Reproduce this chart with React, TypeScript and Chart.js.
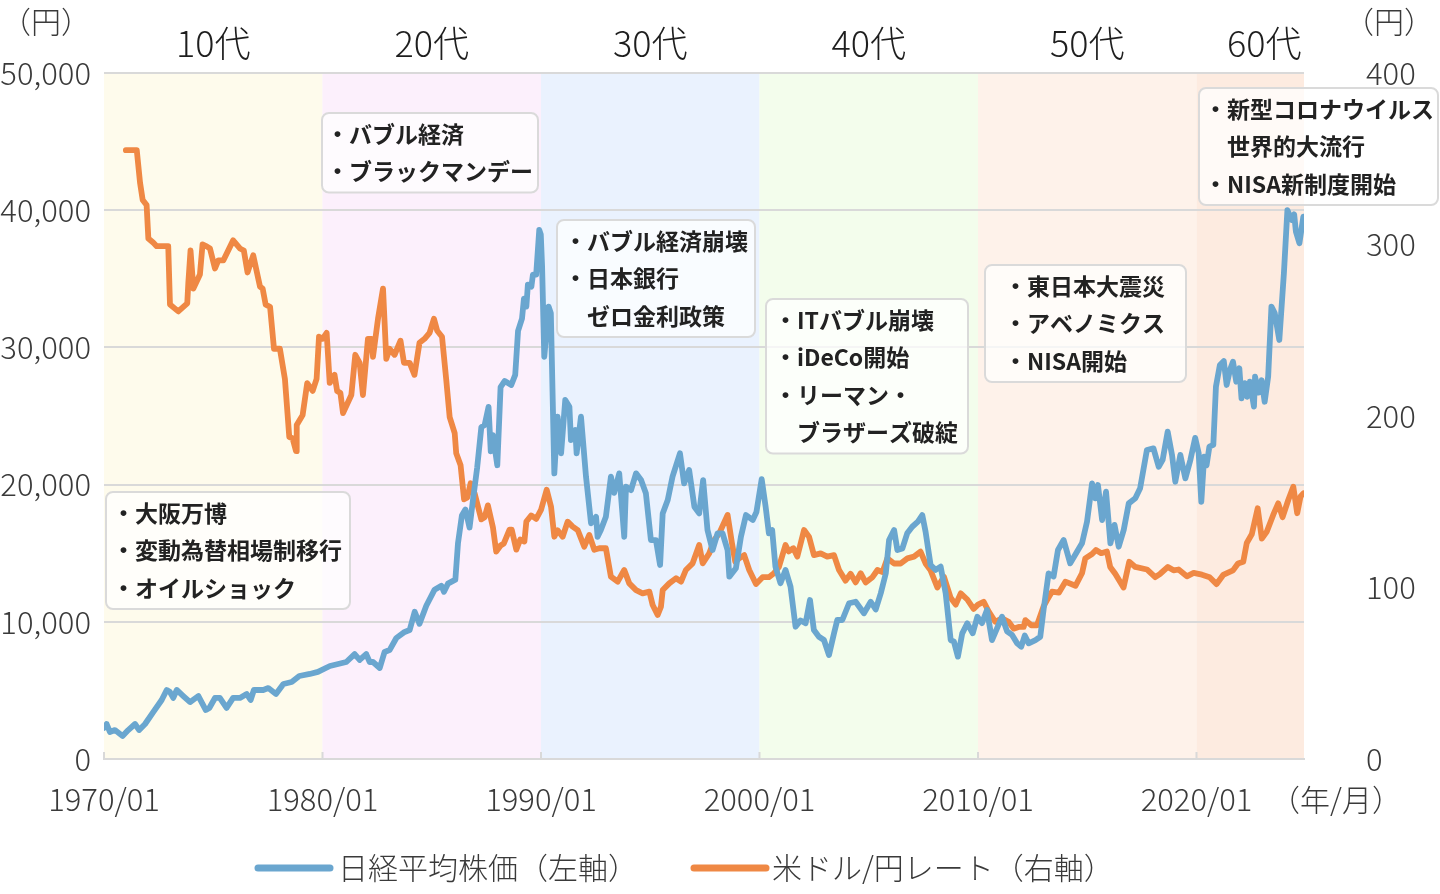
import React, { useEffect, useRef } from "react";
import { Chart, registerables } from "chart.js";

Chart.register(...registerables);

// ---- Data (decimal years) ----
const nikkeiYears = [
  1970.00, 1970.12, 1970.27, 1970.50, 1970.85, 1971.11, 1971.42, 1971.61, 1971.88, 1972.26,
  1972.64, 1972.87, 1973.02, 1973.17, 1973.33, 1973.63, 1973.94, 1974.32, 1974.66, 1974.82,
  1975.08, 1975.30, 1975.61, 1975.91, 1976.22, 1976.53, 1976.71, 1976.86, 1977.29, 1977.52,
  1977.87, 1978.21, 1978.59, 1978.94, 1979.42, 1979.79, 1980.34, 1981.09, 1981.47, 1981.70,
  1982.00, 1982.16, 1982.31, 1982.62, 1982.84, 1983.07, 1983.38, 1983.76, 1983.99, 1984.22,
  1984.44, 1984.75, 1985.13, 1985.44, 1985.56, 1985.74, 1986.08, 1986.20, 1986.38, 1986.54,
  1986.73, 1986.89, 1987.08, 1987.27, 1987.42, 1987.60, 1987.70, 1987.80, 1988.00, 1988.15,
  1988.34, 1988.64, 1988.82, 1988.95, 1989.13, 1989.22, 1989.33, 1989.40, 1989.56, 1989.63,
  1989.78, 1989.92, 1989.99, 1990.05, 1990.15, 1990.35, 1990.45, 1990.61, 1990.76, 1990.92,
  1991.11, 1991.30, 1991.37, 1991.57, 1991.63, 1991.83, 1992.06, 1992.29, 1992.52, 1992.59,
  1992.74, 1992.97, 1993.20, 1993.35, 1993.58, 1993.81, 1993.89, 1994.12, 1994.35, 1994.58,
  1994.80, 1995.03, 1995.26, 1995.45, 1995.57, 1995.80, 1996.02, 1996.36, 1996.55, 1996.78,
  1997.02, 1997.24, 1997.42, 1997.62, 1997.85, 1998.08, 1998.31, 1998.54, 1998.62, 1998.92,
  1999.15, 1999.38, 1999.69, 1999.86, 2000.10, 2000.28, 2000.43, 2000.58, 2000.73, 2000.96,
  2001.19, 2001.42, 2001.65, 2001.88, 2002.11, 2002.31, 2002.49, 2002.72, 2002.95, 2003.18,
  2003.41, 2003.56, 2003.79, 2004.10, 2004.40, 2004.78, 2005.09, 2005.32, 2005.55, 2005.78,
  2005.93, 2006.16, 2006.31, 2006.54, 2006.76, 2006.99, 2007.25, 2007.45, 2007.60, 2007.83,
  2008.06, 2008.29, 2008.52, 2008.75, 2008.90, 2009.08, 2009.28, 2009.51, 2009.76, 2009.97,
  2010.18, 2010.41, 2010.64, 2010.87, 2011.10, 2011.33, 2011.56, 2011.79, 2011.98, 2012.14,
  2012.32, 2012.63, 2012.85, 2013.00, 2013.23, 2013.46, 2013.66, 2013.92, 2014.22, 2014.53,
  2014.76, 2014.99, 2015.22, 2015.37, 2015.49, 2015.68, 2015.86, 2016.06, 2016.25, 2016.44,
  2016.67, 2016.90, 2017.20, 2017.42, 2017.73, 2018.03, 2018.27, 2018.45, 2018.68, 2018.88,
  2019.03, 2019.26, 2019.49, 2019.72, 2019.94, 2020.10, 2020.22, 2020.35, 2020.46, 2020.59,
  2020.77, 2020.89, 2021.07, 2021.25, 2021.38, 2021.53, 2021.67, 2021.82, 2021.96, 2022.06,
  2022.21, 2022.32, 2022.44, 2022.63, 2022.68, 2022.83, 2022.98, 2023.12, 2023.28, 2023.43,
  2023.58, 2023.79, 2024.00, 2024.16, 2024.36, 2024.47, 2024.55, 2024.71, 2024.89,
];
const nikkeiValues = [
  2260, 2550, 1970, 2110, 1680, 2110, 2550, 2110, 2550, 3430,
  4300, 5030, 4880, 4450, 5030, 4590, 4150, 4590, 3570, 3720,
  4450, 4450, 3720, 4450, 4450, 4740, 4300, 5030, 5030, 5170,
  4740, 5470, 5610, 6050, 6200, 6350, 6780, 7070, 7650, 7220,
  7650, 7070, 7070, 6630, 7800, 7940, 8820, 9260, 9400, 10730,
  9850, 11170, 12340, 12630, 12190, 12780, 13070, 15710, 17750, 18190,
  16870, 18920, 21260, 24190, 24340, 25660, 22430, 23610, 21410, 27110,
  27550, 27260, 28000, 31210, 32090, 33560, 32970, 34580, 34430, 35310,
  35310, 38560, 38240, 35880, 29320, 32970, 32500, 20820, 24950, 22280,
  26170, 25680, 23250, 23980, 22280, 24950, 20580, 17180, 17660, 16200,
  16700, 17660, 20580, 19400, 20820, 16200, 19850, 19600, 20820, 20330,
  19370, 15960, 15960, 14140, 17900, 18880, 20580, 22280, 20090, 21060,
  18390, 17900, 20330, 16690, 15230, 16450, 16450, 15230, 13290, 13900,
  16200, 17780, 17420, 18000, 20400, 18390, 16450, 16690, 14020, 12810,
  13780, 12560, 9640, 10100, 9890, 11590, 9400, 8910, 8670, 7580,
  9160, 10130, 10130, 11350, 11460, 10620, 11460, 10900, 12080, 13530,
  15960, 16690, 15230, 15350, 16450, 16930, 17300, 17780, 16570, 14140,
  13780, 14020, 12080, 8670, 8550, 7460, 9160, 9890, 9160, 10370,
  9900, 10860, 8670, 9520, 10370, 9300, 9040, 8430, 8190, 9000,
  8430, 8670, 8910, 10860, 13530, 13300, 15230, 15960, 14260, 15100,
  15720, 17300, 20090, 19000, 19970, 17420, 19480, 15720, 17060, 15470,
  16700, 18630, 19000, 19730, 22520, 22640, 21300, 21800, 23860, 22160,
  20210, 22160, 20450, 21800, 23400, 22300, 18750, 22030, 21400, 22760,
  22890, 27140, 28720, 29000, 27260, 28360, 28960, 27500, 28480, 26290,
  27400, 26400, 27500, 25680, 27870, 26700, 27600, 26040, 27870, 32970,
  32500, 30540, 35400, 40010, 39290, 39700, 38430, 37590, 39530,
];

const fxYears = [
  1971.00, 1971.50, 1971.65, 1971.77, 1971.95, 1972.03, 1972.26, 1972.41, 1972.94, 1973.02,
  1973.40, 1973.81, 1973.86, 1973.96, 1974.09, 1974.39, 1974.51, 1974.70, 1974.85, 1975.08,
  1975.23, 1975.46, 1975.91, 1976.22, 1976.40, 1976.57, 1976.83, 1977.14, 1977.26, 1977.40,
  1977.60, 1977.78, 1978.05, 1978.28, 1978.48, 1978.63, 1978.79, 1978.82, 1979.09, 1979.30,
  1979.55, 1979.73, 1979.84, 1980.00, 1980.19, 1980.33, 1980.55, 1980.67, 1980.82, 1980.94,
  1981.32, 1981.50, 1981.70, 1981.85, 1982.08, 1982.24, 1982.31, 1982.54, 1982.77, 1982.92,
  1983.07, 1983.30, 1983.57, 1983.73, 1983.99, 1984.21, 1984.44, 1984.67, 1984.90, 1985.10,
  1985.25, 1985.47, 1985.66, 1985.82, 1986.05, 1986.12, 1986.32, 1986.48, 1986.63, 1986.78,
  1986.96, 1987.27, 1987.42, 1987.57, 1987.80, 1987.95, 1988.15, 1988.30, 1988.56, 1988.66,
  1988.87, 1989.05, 1989.24, 1989.33, 1989.55, 1989.78, 1990.00, 1990.26, 1990.46, 1990.61,
  1990.76, 1990.99, 1991.22, 1991.45, 1991.68, 1991.98, 1992.21, 1992.44, 1992.67, 1992.97,
  1993.20, 1993.51, 1993.81, 1994.04, 1994.35, 1994.65, 1994.96, 1995.11, 1995.34, 1995.49,
  1995.57, 1995.87, 1996.18, 1996.41, 1996.63, 1996.94, 1997.24, 1997.40, 1997.70, 1997.93,
  1998.16, 1998.54, 1998.74, 1998.89, 1999.07, 1999.30, 1999.53, 1999.84, 2000.14, 2000.43,
  2000.66, 2000.89, 2001.19, 2001.34, 2001.55, 2001.73, 2002.04, 2002.27, 2002.49, 2002.80,
  2003.10, 2003.41, 2003.64, 2003.94, 2004.17, 2004.40, 2004.63, 2004.86, 2005.17, 2005.40,
  2005.63, 2005.85, 2006.16, 2006.46, 2006.77, 2007.07, 2007.37, 2007.60, 2007.83, 2008.14,
  2008.44, 2008.75, 2008.98, 2009.21, 2009.51, 2009.80, 2010.00, 2010.26, 2010.49, 2010.79,
  2011.10, 2011.40, 2011.63, 2011.86, 2012.09, 2012.17, 2012.44, 2012.70, 2013.00, 2013.16,
  2013.39, 2013.70, 2014.00, 2014.46, 2014.76, 2014.91, 2015.22, 2015.40, 2015.64, 2015.90,
  2016.05, 2016.28, 2016.66, 2016.92, 2017.20, 2017.73, 2018.11, 2018.34, 2018.69, 2018.95,
  2019.18, 2019.56, 2019.87, 2020.25, 2020.60, 2020.92, 2021.22, 2021.67, 2021.90, 2022.14,
  2022.30, 2022.53, 2022.80, 2022.99, 2023.22, 2023.51, 2023.74, 2023.94, 2024.20, 2024.43,
  2024.61, 2024.76, 2024.90,
];
const fxValues = [
  355, 355, 336, 326, 323, 303.5, 301, 299, 299, 265,
  261, 265.7, 277.8, 296.5, 274.3, 282.5, 300, 298.9, 297.7, 286,
  290.7, 290.7, 302.4, 297.7, 296.5, 283.7, 293.7, 275.4, 274.3, 264.9,
  263.7, 239.2, 239.2, 221.6, 187.7, 187, 179.5, 194.7, 200.5, 219.2,
  214.6, 221.6, 246.2, 245, 248.5, 219.3, 224, 214.6, 213.4, 201.7,
  212.2, 235.7, 231, 212.2, 245, 245, 234.5, 256.7, 274.3, 233.3,
  239.2, 235.7, 243.9, 231, 231, 224, 242.7, 245, 248.5, 256.7,
  249.7, 246.2, 221.6, 199.4, 190, 178.3, 171.3, 151.4, 152.5, 160.8,
  154.9, 139.7, 140.9, 147.9, 135, 120.9, 124.5, 125.7, 133.8, 133.8,
  122.1, 128, 126.8, 138.5, 142, 140, 145.2, 157, 147.1, 129.6,
  133.4, 129.6, 138.4, 135.5, 133.5, 123.8, 130.6, 122, 122.9, 122.9,
  106.3, 103.4, 110.2, 102.4, 98.5, 96.6, 97.6, 89.8, 84, 88.8,
  98.5, 102.4, 105.4, 103.4, 110.2, 114.1, 124.8, 114.1, 119.9, 127.7,
  131.6, 142.3, 125.8, 115, 117, 118.9, 110.2, 102, 106, 106,
  108.3, 112, 124.8, 121, 122.9, 118, 133.5, 129.5, 118.9, 119.9,
  118, 118.9, 110.2, 104, 108, 103, 108.3, 103, 106, 110.2,
  109, 117, 114, 114, 117, 118, 120.9, 114, 110, 100,
  106.3, 94, 90, 96.6, 93, 87.5, 90, 91.7, 86, 80,
  82, 80, 76, 77, 77, 81, 78, 78, 89, 92.7,
  97.6, 97, 103.4, 101, 108.3, 117, 119.5, 121.9, 120, 121,
  112, 108, 100, 115, 112, 110.5, 106, 108, 112, 110,
  110.5, 106.5, 108.5, 107.5, 106, 102, 107.3, 110, 114, 115,
  126, 131, 146.2, 128.5, 132.6, 142.3, 149.1, 141, 151, 158.8,
  143.3, 153, 154.9,
];

const xTickYears = [1970, 1980, 1990, 2000, 2010, 2020];
const leftTicks = [0, 10000, 20000, 30000, 40000, 50000];
const rightTicks = [0, 100, 200, 300, 400];
const decadeStarts = [1970, 1980, 1990, 2000, 2010, 2020];
const decadeLabels = ["10代", "20代", "30代", "40代", "50代", "60代"];
const seriesNames = ["日経平均株価（左軸）", "米ドル/円レート（右軸）"];
const eventNotes = [
  ["・大阪万博", "・変動為替相場制移行", "・オイルショック"],
  ["・バブル経済", "・ブラックマンデー"],
  ["・バブル経済崩壊", "・日本銀行", "　ゼロ金利政策"],
  ["・ITバブル崩壊", "・iDeCo開始", "・リーマン・", "　ブラザーズ破綻"],
  ["・東日本大震災", "・アベノミクス", "・NISA開始"],
  ["・新型コロナウイルス", "　世界的大流行", "・NISA新制度開始"],
];

// ---- Styles / layout ----
const FONT = '"Noto Sans CJK JP", "Noto Sans", sans-serif';
const BLUE = "#6aa6cf";
const ORANGE = "#ef8844";
const GRID = "#d9d9d9";
const TEXT = "#3a3a3a";
const bandColors = ["#fefbec", "#fcf0fc", "#eaf2fe", "#f3fdec", "#fef2ea", "#fdebe0"];
const decadeLabelYears = [1975, 1985, 1995, 2005, 2015, 2023.1];
const noteBoxes = [
  { x: 106, y: 492, w: 244, pad: 6 },
  { x: 322, y: 113, w: 216, pad: 4 },
  { x: 557, y: 220, w: 198, pad: 7 },
  { x: 766, y: 299, w: 202, pad: 8 },
  { x: 985, y: 265, w: 201, pad: 19 },
  { x: 1199, y: 88, w: 239, pad: 5 },
];
const LINE_GAP = 37.5;
const CHART_TOP = 73;
const CHART_BOTTOM = 759;

const overlayPlugin = {
  id: "overlay",
  beforeDraw(chart: any) {
    const { ctx, chartArea: a, scales } = chart;
    const x = scales.x;
    ctx.save();
    decadeStarts.forEach((s, i) => {
      const x0 = x.getPixelForValue(s);
      const x1 = i < decadeStarts.length - 1 ? x.getPixelForValue(decadeStarts[i + 1]) : a.right;
      ctx.fillStyle = bandColors[i];
      ctx.fillRect(x0, a.top, x1 - x0, a.bottom - a.top);
    });
    ctx.restore();
  },
  afterDatasetsDraw(chart: any) {
    const { ctx } = chart;
    ctx.save();
    eventNotes.forEach((lines, i) => {
      const b = noteBoxes[i];
      const h = (lines.length - 1) * LINE_GAP + 42;
      ctx.beginPath();
      if (ctx.roundRect) ctx.roundRect(b.x, b.y, b.w, h, 7);
      else ctx.rect(b.x, b.y, b.w, h);
      ctx.fillStyle = "rgba(255,255,255,0.72)";
      ctx.fill();
      ctx.lineWidth = 2;
      ctx.strokeStyle = "#dadada";
      ctx.stroke();
      ctx.fillStyle = "#222";
      ctx.font = `bold 23px ${FONT}`;
      ctx.textAlign = "left";
      ctx.textBaseline = "middle";
      lines.forEach((t, j) => {
        ctx.fillText(t, b.x + b.pad, b.y + 21 + j * LINE_GAP);
      });
    });
    ctx.restore();
  },
  afterDraw(chart: any) {
    const { ctx, chartArea: a, scales } = chart;
    const x = scales.x;
    ctx.save();
    ctx.strokeStyle = GRID;
    ctx.lineWidth = 2;
    xTickYears.forEach((v) => {
      const px = x.getPixelForValue(v);
      ctx.beginPath();
      ctx.moveTo(px, a.bottom - 7);
      ctx.lineTo(px, a.bottom);
      ctx.stroke();
    });
    ctx.fillStyle = "#1e1e1e";
    ctx.font = `300 36px ${FONT}`;
    ctx.textAlign = "center";
    ctx.textBaseline = "middle";
    decadeLabels.forEach((t, i) => {
      ctx.fillText(t, x.getPixelForValue(decadeLabelYears[i]), 43);
    });
    ctx.fillStyle = TEXT;
    ctx.font = `300 30px ${FONT}`;
    ctx.fillText("（円）", 46, 22);
    ctx.fillText("（円）", 1389, 22);
    ctx.fillText("（年/月）", 1336, 800);
    const legendY = 868;
    const items = [
      { color: BLUE, x0: 258, x1: 330, tx: 338 },
      { color: ORANGE, x0: 694, x1: 766, tx: 772 },
    ];
    items.forEach((it, i) => {
      ctx.strokeStyle = it.color;
      ctx.lineWidth = 7;
      ctx.lineCap = "round";
      ctx.beginPath();
      ctx.moveTo(it.x0, legendY);
      ctx.lineTo(it.x1, legendY);
      ctx.stroke();
      ctx.fillStyle = TEXT;
      ctx.textAlign = "left";
      ctx.fillText(seriesNames[i], it.tx, legendY);
    });
    ctx.restore();
  },
};

export default function App() {
  const canvasRef = useRef<HTMLCanvasElement>(null);
  useEffect(() => {
    const canvas = canvasRef.current;
    if (!canvas) return;
    const toPoints = (xs: number[], ys: number[]) => xs.map((v, i) => ({ x: v, y: ys[i] }));
    const tickFont = { family: FONT, size: 31, weight: "300" };
    const vFit = (w: number) => (s: any) => {
      s.width = w;
      s.paddingTop = 0;
      s.paddingBottom = 0;
    };
    const chart = new Chart(canvas, {
      type: "line",
      data: {
        datasets: [
          {
            label: seriesNames[0],
            data: toPoints(nikkeiYears, nikkeiValues),
            yAxisID: "y",
            borderColor: BLUE,
            backgroundColor: BLUE,
            borderWidth: 5.8,
            pointRadius: 0,
            tension: 0,
            borderJoinStyle: "round",
            borderCapStyle: "round",
          },
          {
            label: seriesNames[1],
            data: toPoints(fxYears, fxValues),
            yAxisID: "y1",
            borderColor: ORANGE,
            backgroundColor: ORANGE,
            borderWidth: 5.8,
            pointRadius: 0,
            tension: 0,
            borderJoinStyle: "round",
            borderCapStyle: "round",
          },
        ],
      },
      options: {
        animation: false,
        responsive: false,
        devicePixelRatio: 1,
        layout: { padding: { top: CHART_TOP, left: 0, right: 0, bottom: 0 } },
        plugins: { legend: { display: false }, tooltip: { enabled: false } },
        scales: {
          x: {
            type: "linear",
            min: 1970,
            max: 2024.92,
            grid: { display: false, drawTicks: false },
            border: { display: true, color: GRID, width: 2 },
            ticks: {
              padding: 22,
              font: tickFont,
              color: TEXT,
              maxRotation: 0,
              autoSkip: false,
              callback: (v: any) => `${v}/01`,
            },
            afterBuildTicks: (s: any) => {
              s.ticks = xTickYears.map((v) => ({ value: v }));
            },
            afterFit: (s: any) => {
              s.height = 894 - CHART_BOTTOM;
              s.paddingLeft = 0;
              s.paddingRight = 0;
            },
          },
          y: {
            position: "left",
            min: 0,
            max: 50000,
            grid: { color: GRID, lineWidth: 2, drawTicks: false },
            border: { display: false },
            ticks: {
              padding: 13,
              font: tickFont,
              color: TEXT,
              callback: (v: any) => Number(v).toLocaleString("en-US"),
            },
            afterBuildTicks: (s: any) => {
              s.ticks = leftTicks.map((v) => ({ value: v }));
            },
            afterFit: vFit(104),
          },
          y1: {
            position: "right",
            min: 0,
            max: 400,
            grid: { display: false, drawTicks: false },
            border: { display: false },
            ticks: {
              padding: 62,
              font: tickFont,
              color: TEXT,
              callback: (v: any) => String(v),
            },
            afterBuildTicks: (s: any) => {
              s.ticks = rightTicks.map((v) => ({ value: v }));
            },
            afterFit: vFit(136),
          },
        },
      },
      plugins: [overlayPlugin],
    } as any);
    return () => chart.destroy();
  }, []);
  return (
    <div style={{ position: "absolute", left: 0, top: 0, width: 1440, height: 894, background: "#fff" }}>
      <canvas ref={canvasRef} width={1440} height={894} style={{ display: "block" }} />
    </div>
  );
}
